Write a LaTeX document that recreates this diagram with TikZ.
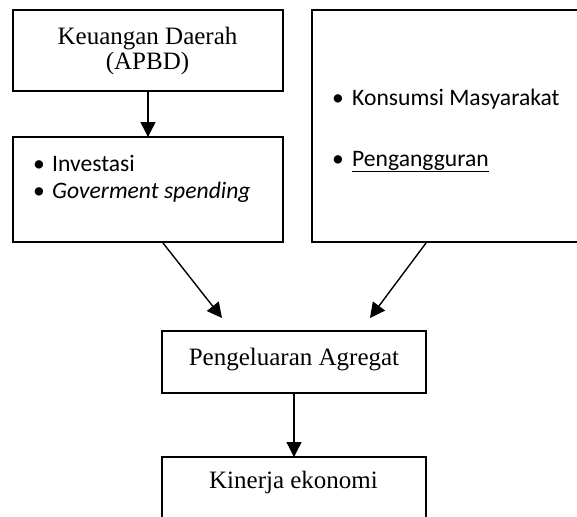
\documentclass[tikz,border=0pt]{standalone}
\usepackage{fontspec}
\setmainfont{Liberation Serif}
\newfontfamily\calibri{Carlito}
\usetikzlibrary{arrows.meta}
\begin{document}
\begin{tikzpicture}[x=1pt,y=-1pt,
  box/.style={draw, line width=1.5pt, inner sep=0pt, outer sep=0pt, anchor=north west},
  arr/.style={line width=1.4pt, -{Triangle[length=15pt,width=15pt]}},
  serif/.style={font=\fontsize{25}{25}\selectfont, anchor=base, inner sep=0pt},
  sans/.style={font=\calibri\fontsize{23.6}{27}\selectfont, anchor=base west, inner sep=0pt}]
\useasboundingbox (0,0) rectangle (577,516);
% boxes
\node[box, minimum width=270pt, minimum height=81pt] (kd) at (13,10) {};
\node[box, minimum width=270pt, minimum height=105pt] (inv) at (13,137) {};
\node[box, minimum width=290pt, minimum height=232pt] (kon) at (312,10) {};
\node[box, minimum width=264pt, minimum height=62pt] (ag) at (162,331) {};
\node[box, minimum width=264pt, minimum height=90pt] (ke) at (162,457) {};
% texts
\node[serif] (kdt1) at (147.5,45) {Keuangan Daerah};
\node[serif] (kdt2) at (147.5,70) {(APBD)};
\node[sans] (b1) at (33,171) {\makebox[19pt][l]{•}Investasi};
\node[sans] (b2) at (33,198) {\makebox[19pt][l]{•}\itshape Goverment spending};
\node[sans] (b3) at (332,105) {\makebox[20pt][l]{•}Konsumsi Masyarakat};
\node[sans] (b4) at (332,166) {\makebox[20pt][l]{•}\underline{Pengangguran}};
\node[serif] (agt) at (294,365) {Pengeluaran Agregat};
\node[serif] (ket) at (293.5,488) {Kinerja ekonomi};
% connector endpoints
\coordinate (l1) at (163,243);
\coordinate (l2) at (222,318);
\coordinate (r1) at (426,243);
\coordinate (r2) at (370,318);
% arrows
\draw[arr] (kd.south) -- (inv.north);
\draw[arr] (ag.south) -- (ke.north);
\draw[arr] (l1) -- (l2);
\draw[arr] (r1) -- (r2);
\end{tikzpicture}
\end{document}
